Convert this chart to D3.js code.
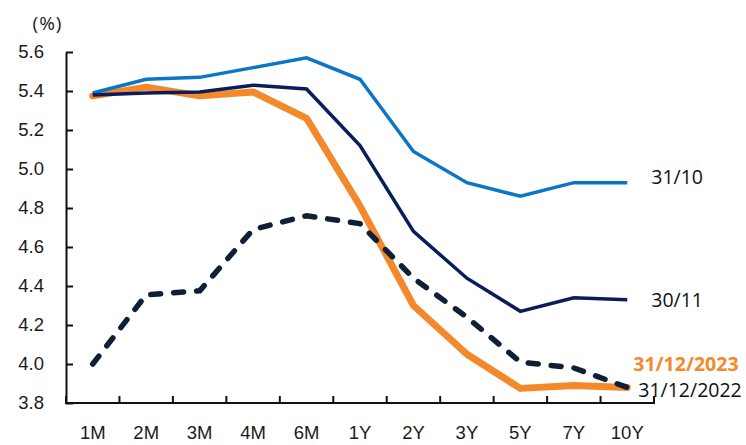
<!DOCTYPE html>
<html>
<head>
<meta charset="utf-8">
<script src="https://cdn.jsdelivr.net/npm/d3@7"></script>
<style>
  html, body { margin: 0; padding: 0; background: #fff; }
  svg { display: block; font-family: "Open Sans", "Noto Sans", sans-serif; }
</style>
</head>
<body>
<svg id="chart" width="746" height="445"></svg>
<script>
// Yield curve tenors
const tenors = ["1M", "2M", "3M", "4M", "6M", "1Y", "2Y", "3Y", "5Y", "7Y", "10Y"];

// Yields (%) by curve date
const oct31 = [5.39, 5.46, 5.47, 5.52, 5.57, 5.46, 5.09, 4.93, 4.86, 4.93, 4.93];
const nov30 = [5.38, 5.39, 5.395, 5.43, 5.41, 5.12, 4.68, 4.44, 4.27, 4.34, 4.33];
const dec31_2023 = [5.375, 5.42, 5.375, 5.395, 5.26, 4.81, 4.30, 4.05, 3.875, 3.89, 3.88];
const dec31_2022 = [4.00, 4.355, 4.375, 4.69, 4.76, 4.72, 4.44, 4.24, 4.01, 3.98, 3.88];

// Y axis ticks
const yTicks = [3.8, 4.0, 4.2, 4.4, 4.6, 4.8, 5.0, 5.2, 5.4, 5.6];

const series = [
  { name: "31/12/2023", values: dec31_2023, color: "#f3892a", width: 7, dash: null, cap: "round",
    label: { dx: 6, dy: -23, bold: true, color: "#f3892a" } },
  { name: "31/10", values: oct31, color: "#0b76c6", width: 3.5, dash: null, cap: "butt",
    label: { dx: 24, dy: -5.5, bold: false, color: "#111" } },
  { name: "30/11", values: nov30, color: "#0a1d5a", width: 3.5, dash: null, cap: "butt",
    label: { dx: 24, dy: 0.5, bold: false, color: "#111" } },
  { name: "31/12/2022", values: dec31_2022, color: "#0e1f36", width: 5.5, dash: "10,13", cap: "round",
    label: { dx: 11, dy: 3, bold: false, color: "#111" } }
];

const svg = d3.select("#chart");

const x = d3.scaleBand().domain(tenors).range([66, 654]).paddingInner(0).paddingOuter(0);
const y = d3.scaleLinear().domain([3.8, 5.6]).range([403, 52]);
const cx = t => x(t) + x.bandwidth() / 2;

// Y axis: ticks pointing inward
const yAxis = d3.axisLeft(y)
  .tickValues(yTicks)
  .tickFormat(d3.format(".1f"))
  .tickSizeInner(-7)
  .tickSizeOuter(0)
  .tickPadding(22);

const gy = svg.append("g").attr("transform", "translate(66,0)").call(yAxis);
gy.select(".domain").attr("stroke", "#111").attr("stroke-width", 2);
gy.selectAll(".tick line").attr("stroke", "#111").attr("stroke-width", 2);
gy.selectAll(".tick text").attr("fill", "#1a1a1a").style("font-size", "18.5px");

// X axis: labels at band centres, tick marks at band boundaries
const xAxis = d3.axisBottom(x).tickSize(0).tickPadding(0);
const gx = svg.append("g").attr("transform", "translate(0,403)").call(xAxis);
gx.select(".domain").remove();
gx.selectAll(".tick text")
  .attr("y", 36)
  .attr("dy", 0)
  .attr("fill", "#1a1a1a")
  .style("font-size", "18.5px");

const boundaries = tenors.map(t => x(t)).concat([x.range()[1]]);
svg.append("g")
  .selectAll("line")
  .data(boundaries)
  .join("line")
  .attr("x1", d => d).attr("x2", d => d)
  .attr("y1", 403).attr("y2", 396)
  .attr("stroke", "#111").attr("stroke-width", 2);

svg.append("line")
  .attr("x1", 65).attr("x2", x.range()[1] + 1)
  .attr("y1", 403).attr("y2", 403)
  .attr("stroke", "#111").attr("stroke-width", 2);

// Unit label
svg.append("text")
  .attr("x", 47.5).attr("y", 29.5)
  .attr("text-anchor", "middle")
  .attr("fill", "#1a1a1a")
  .style("font-size", "19px")
  .style("letter-spacing", "1px")
  .text("(%)");

// Curves
const line = d3.line()
  .x((d, i) => cx(tenors[i]))
  .y(d => y(d));

svg.append("g")
  .selectAll("path")
  .data(series)
  .join("path")
  .attr("d", s => line(s.values))
  .attr("fill", "none")
  .attr("stroke", s => s.color)
  .attr("stroke-width", s => s.width)
  .attr("stroke-dasharray", s => s.dash)
  .attr("stroke-linecap", s => s.cap)
  .attr("stroke-linejoin", s => s.cap === "round" ? "round" : "miter");

// End labels
const last = tenors[tenors.length - 1];
svg.append("g")
  .selectAll("text")
  .data(series)
  .join("text")
  .attr("x", s => cx(last) + s.label.dx)
  .attr("y", s => y(s.values[s.values.length - 1]) + s.label.dy)
  .attr("dy", "0.35em")
  .attr("fill", s => s.label.color)
  .style("font-size", "19.5px")
  .style("font-weight", s => s.label.bold ? 700 : 400)
  .text(s => s.name);
</script>
</body>
</html>
